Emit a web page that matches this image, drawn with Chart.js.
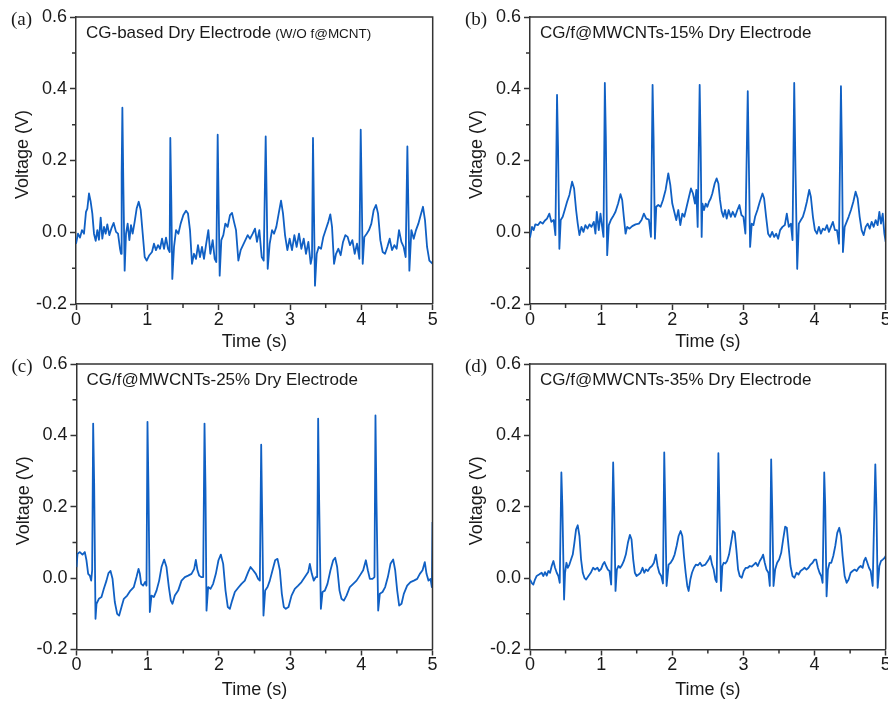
<!DOCTYPE html>
<html>
<head>
<meta charset="utf-8">
<title>ECG signals recorded with CG dry electrodes</title>
<script src="https://cdn.jsdelivr.net/npm/chart.js@4.4.1/dist/chart.umd.min.js"></script>
<style>
  html, body { margin: 0; padding: 0; background: #fff; }
  body { width: 888px; height: 702px; position: relative; overflow: hidden; }
  canvas { position: absolute; }
</style>
</head>
<body>
<canvas id="chartA" width="444" height="351" style="left:0;top:0"></canvas>
<canvas id="chartB" width="444" height="351" style="left:444px;top:0"></canvas>
<canvas id="chartC" width="444" height="351" style="left:0;top:351px"></canvas>
<canvas id="chartD" width="444" height="351" style="left:444px;top:351px"></canvas>
<script>
// tick values and labels shared by the four panels
const xTickValues = [0, 1, 2, 3, 4, 5];
const xTickLabels = ['0', '1', '2', '3', '4', '5'];
const xMinorValues = [0.5, 1.5, 2.5, 3.5, 4.5];
const yTickValues = [-0.2, 0, 0.2, 0.4, 0.6];
const yTickLabels = ['-0.2', '0.0', '0.2', '0.4', '0.6'];
const yMinorValues = [-0.1, 0.1, 0.3, 0.5];

// (a) CG-based, no f@MCNT
const timeA = [
  0, 0.028, 0.056, 0.084, 0.112, 0.140, 0.159, 0.182, 0.206, 0.229,
  0.252, 0.276, 0.299, 0.322, 0.346, 0.369, 0.393, 0.416, 0.439, 0.467,
  0.495, 0.528, 0.561, 0.589, 0.617, 0.631, 0.640, 0.650, 0.664, 0.682,
  0.701, 0.724, 0.748, 0.771, 0.794, 0.822, 0.850, 0.879, 0.907, 0.935,
  0.963, 0.991, 1.028, 1.065, 1.093, 1.121, 1.150, 1.178, 1.206, 1.234,
  1.262, 1.290, 1.313, 1.322, 1.336, 1.350, 1.374, 1.402, 1.435, 1.467,
  1.505, 1.542, 1.570, 1.598, 1.626, 1.654, 1.682, 1.710, 1.738, 1.766,
  1.794, 1.822, 1.855, 1.883, 1.916, 1.944, 1.967, 1.986, 2.000, 2.014,
  2.037, 2.065, 2.093, 2.126, 2.159, 2.187, 2.215, 2.243, 2.276, 2.308,
  2.341, 2.374, 2.407, 2.439, 2.477, 2.509, 2.537, 2.570, 2.603, 2.631,
  2.659, 2.673, 2.687, 2.715, 2.748, 2.776, 2.808, 2.841, 2.874, 2.902,
  2.930, 2.963, 2.995, 3.028, 3.061, 3.093, 3.126, 3.159, 3.192, 3.224,
  3.257, 3.290, 3.308, 3.322, 3.336, 3.350, 3.374, 3.402, 3.435, 3.467,
  3.505, 3.537, 3.565, 3.589, 3.617, 3.645, 3.678, 3.710, 3.743, 3.776,
  3.808, 3.841, 3.874, 3.907, 3.939, 3.972, 3.991, 4.005, 4.019, 4.042,
  4.075, 4.107, 4.140, 4.173, 4.206, 4.234, 4.266, 4.299, 4.332, 4.364,
  4.397, 4.430, 4.463, 4.495, 4.528, 4.561, 4.593, 4.621, 4.645, 4.659,
  4.673, 4.701, 4.734, 4.766, 4.799, 4.832, 4.864, 4.892, 4.921, 4.953,
  5.0
];
const voltA = [
  -0.032, -0.004, -0.015, 0.006, -0.004, 0.057, 0.066, 0.108, 0.085, 0.052,
  -0.004, -0.024, 0.006, -0.021, 0.041, -0.018, 0.015, -0.004, 0.022, -0.008,
  0.010, 0.026, 0.001, -0.004, -0.046, -0.060, 0.164, 0.347, 0.127, -0.107,
  -0.004, 0.024, -0.022, 0.020, -0.004, 0.029, 0.066, 0.085, 0.062, -0.004,
  -0.069, -0.079, -0.064, -0.055, -0.032, -0.050, -0.036, -0.046, -0.018, -0.046,
  -0.015, -0.046, -0.055, 0.263, 0.090, -0.130, -0.041, 0.006, -0.004, 0.024,
  0.048, 0.060, 0.052, 0.006, -0.088, -0.060, -0.074, -0.036, -0.069, -0.041,
  -0.074, -0.036, 0.006, -0.060, -0.022, -0.074, -0.083, 0.272, 0.071, -0.121,
  -0.022, -0.008, 0.024, 0.015, 0.048, 0.054, 0.029, 0.006, -0.079, -0.050,
  -0.036, -0.022, -0.008, -0.018, -0.004, 0.010, -0.027, 0.006, -0.069, -0.079,
  0.267, 0.090, -0.102, -0.032, 0.006, -0.004, 0.015, 0.052, 0.088, 0.052,
  -0.008, -0.050, -0.018, -0.050, -0.008, -0.041, -0.004, -0.046, -0.018, -0.060,
  -0.027, -0.088, -0.069, 0.263, 0.052, -0.149, -0.060, -0.041, -0.046, -0.013,
  0.010, 0.029, 0.050, 0.015, -0.088, -0.060, -0.046, -0.064, -0.027, -0.008,
  -0.013, -0.036, -0.022, -0.060, -0.032, -0.074, 0.286, 0.108, -0.088, -0.013,
  -0.004, 0.006, 0.024, 0.062, 0.076, 0.052, -0.022, -0.055, -0.060, -0.041,
  -0.018, -0.050, -0.036, -0.046, 0.006, -0.027, -0.041, -0.069, 0.239, 0.071,
  -0.107, 0.006, -0.018, 0.006, 0.024, 0.048, 0.071, 0.034, -0.041, -0.079,
  -0.088
];

// (b) 15 %
const timeB = [
  0, 0.028, 0.052, 0.075, 0.113, 0.146, 0.178, 0.207, 0.239, 0.272,
  0.300, 0.333, 0.357, 0.380, 0.394, 0.413, 0.432, 0.460, 0.488, 0.521,
  0.554, 0.592, 0.620, 0.648, 0.671, 0.695, 0.723, 0.751, 0.779, 0.808,
  0.836, 0.864, 0.897, 0.920, 0.939, 0.967, 0.991, 1.014, 1.033, 1.052,
  1.066, 1.085, 1.108, 1.136, 1.164, 1.202, 1.239, 1.272, 1.296, 1.319,
  1.343, 1.366, 1.399, 1.437, 1.484, 1.531, 1.568, 1.601, 1.634, 1.671,
  1.700, 1.723, 1.737, 1.756, 1.775, 1.803, 1.836, 1.869, 1.906, 1.944,
  1.972, 2.000, 2.028, 2.056, 2.085, 2.113, 2.141, 2.169, 2.202, 2.235,
  2.263, 2.291, 2.319, 2.338, 2.357, 2.385, 2.399, 2.413,
  2.423, 2.446, 2.470, 2.493, 2.516, 2.540, 2.563, 2.596, 2.624, 2.648,
  2.671, 2.695, 2.718, 2.742, 2.765, 2.793, 2.822, 2.850, 2.883, 2.915,
  2.944, 2.972, 3.000, 3.028, 3.061, 3.075, 3.094, 3.117, 3.141, 3.164,
  3.197, 3.230, 3.268, 3.291, 3.319, 3.347, 3.376, 3.404, 3.432, 3.460,
  3.488, 3.516, 3.549, 3.582, 3.610, 3.638, 3.667, 3.690, 3.714, 3.732,
  3.756, 3.779, 3.808, 3.836, 3.864, 3.892, 3.925, 3.948, 3.977, 4.005,
  4.033, 4.061, 4.089, 4.117, 4.146, 4.174, 4.202, 4.230, 4.258, 4.286,
  4.315, 4.343, 4.371, 4.385, 4.399, 4.423, 4.451, 4.479, 4.512, 4.545,
  4.577, 4.606, 4.634, 4.662, 4.690, 4.718, 4.746, 4.775, 4.803, 4.831,
  4.859, 4.887, 4.911, 4.934, 4.958, 4.981, 5.0
];
const voltB = [
  -0.015, 0.015, 0.006, 0.022, 0.020, 0.029, 0.024, 0.032, 0.038, 0.052,
  0.029, 0.034, -0.008, 0.383, 0.239, -0.046, 0.034, 0.043, 0.062, 0.085,
  0.104, 0.141, 0.122, 0.062, 0.024, -0.008, 0.015, 0.001, 0.020, 0.010,
  0.022, 0.015, 0.029, -0.004, 0.057, 0.006, 0.052, 0.015, -0.013, 0.416,
  0.267, -0.064, 0.020, 0.034, 0.043, 0.057, 0.080, 0.106, 0.090, 0.043,
  -0.004, 0.015, 0.010, 0.017, 0.022, 0.024, 0.034, 0.052, 0.038, 0.035,
  -0.013, 0.411, 0.267, -0.018, 0.071, 0.076, 0.071, 0.090, 0.118, 0.164,
  0.132, 0.080, 0.057, 0.034, 0.062, 0.020, 0.052, 0.043, 0.071, 0.099,
  0.122, 0.108, 0.080, 0.118, 0.015, 0.411, 0.239, -0.013,
  0.080, 0.062, 0.080, 0.071, 0.085, 0.094, 0.108, 0.136, 0.150, 0.136,
  0.090, 0.057, 0.043, 0.062, 0.038, 0.062, 0.043, 0.057, 0.043, 0.062,
  0.076, 0.048, 0.043, -0.004, 0.393, 0.211, -0.041, 0.024, 0.020, 0.043,
  0.062, 0.085, 0.108, 0.094, 0.043, -0.004, -0.013, 0.001, -0.013, -0.004,
  -0.018, 0.006, 0.015, 0.020, 0.052, 0.015, 0.024, -0.022, 0.416, 0.174,
  -0.102, 0.024, 0.034, 0.043, 0.062, 0.085, 0.118, 0.099, 0.043, 0.006,
  -0.004, 0.015, -0.004, 0.010, 0.006, 0.020, 0.001, 0.015, 0.029, 0.006,
  0.006, -0.032, 0.407, 0.220, -0.055, 0.015, 0.029, 0.043, 0.062, 0.085,
  0.113, 0.094, 0.043, 0.006, -0.008, 0.015, 0.024, 0.010, 0.029, 0.015,
  0.034, 0.020, 0.057, 0.024, 0.052, -0.004, -0.027
];

// (c) 25 %
const timeC = [
  0, 0.014, 0.047, 0.084, 0.117, 0.140, 0.164, 0.187, 0.206, 0.220,
  0.234, 0.248, 0.267, 0.281, 0.314, 0.351, 0.384, 0.421, 0.449, 0.478,
  0.506, 0.538, 0.571, 0.599, 0.632, 0.665, 0.712, 0.758, 0.805, 0.843,
  0.871, 0.890, 0.908, 0.936, 0.964, 0.983, 0.997, 1.011, 1.030, 1.053,
  1.086, 1.124, 1.161, 1.194, 1.231, 1.264, 1.297, 1.325, 1.348, 1.381,
  1.428, 1.475, 1.522, 1.568, 1.615, 1.653, 1.676, 1.699, 1.723, 1.751,
  1.779, 1.798, 1.812, 1.826, 1.849, 1.882, 1.919, 1.957, 1.994, 2.027,
  2.060, 2.093, 2.125, 2.154, 2.186, 2.224, 2.271, 2.317, 2.364, 2.411,
  2.444, 2.481, 2.519, 2.551, 2.575, 2.594, 2.608, 2.626, 2.650, 2.683,
  2.715, 2.753, 2.790, 2.823, 2.856, 2.884, 2.912, 2.940, 2.978, 3.020,
  3.066, 3.113, 3.160, 3.207, 3.254, 3.277, 3.305, 3.333, 3.361, 3.380,
  3.394, 3.408, 3.432, 3.455, 3.488, 3.525, 3.567, 3.605, 3.633, 3.661,
  3.694, 3.722, 3.755, 3.792, 3.839, 3.886, 3.933, 3.979, 4.026, 4.064,
  4.092, 4.120, 4.157, 4.185, 4.199, 4.213, 4.237, 4.260, 4.298, 4.335,
  4.373, 4.410, 4.448, 4.476, 4.504, 4.532, 4.565, 4.597, 4.644, 4.691,
  4.738, 4.785, 4.822, 4.860, 4.892, 4.916, 4.944, 4.972, 4.991, 5.0
];
const voltC = [
  0.031, 0.068, 0.073, 0.066, 0.073, 0.050, 0.012, 0.007, -0.007, 0.022,
  0.433, 0.265, -0.114, -0.072, -0.058, -0.053, -0.030, -0.007, 0.014, 0.020,
  -0.002, -0.067, -0.100, -0.105, -0.081, -0.058, -0.049, -0.035, -0.025, 0.003,
  0.026, 0.012, -0.016, -0.021, -0.011, -0.021, 0.438, 0.246, -0.095, -0.049,
  -0.053, -0.035, -0.007, 0.031, 0.052, 0.031, -0.025, -0.063, -0.072, -0.049,
  -0.035, -0.007, 0.003, 0.007, 0.012, 0.026, 0.051, 0.022, 0.007, 0.003,
  0.003, 0.433, 0.246, -0.091, -0.025, -0.030, -0.016, 0.012, 0.050, 0.066,
  0.040, -0.035, -0.081, -0.086, -0.063, -0.039, -0.027, -0.016, -0.007, 0.017,
  0.031, 0.022, 0.012, -0.002, -0.007, 0.374, 0.171, -0.105, -0.035, -0.025,
  -0.007, 0.022, 0.050, 0.054, 0.022, -0.044, -0.081, -0.086, -0.081, -0.049,
  -0.030, -0.021, -0.011, 0.003, 0.017, 0.040, 0.012, -0.007, 0.003, 0.003,
  0.447, 0.218, -0.086, -0.039, -0.035, -0.016, 0.022, 0.050, 0.057, 0.031,
  -0.035, -0.058, -0.063, -0.049, -0.025, -0.016, -0.007, 0.007, 0.022, 0.050,
  0.022, -0.002, -0.002, 0.003, 0.456, 0.218, -0.091, -0.044, -0.039, -0.025,
  0.003, 0.040, 0.052, 0.022, -0.035, -0.077, -0.072, -0.044, -0.021, -0.011,
  -0.007, -0.002, 0.012, 0.022, 0.045, 0.012, -0.007, -0.002, -0.025, 0.157
];

// (d) 35 %
const timeD = [
  0, 0.023, 0.047, 0.070, 0.094, 0.127, 0.164, 0.188, 0.211, 0.235,
  0.258, 0.282, 0.305, 0.329, 0.352, 0.376, 0.399, 0.418, 0.441, 0.455,
  0.479, 0.493, 0.512, 0.531, 0.554, 0.577, 0.601, 0.624, 0.648, 0.671,
  0.695, 0.718, 0.742, 0.765, 0.789, 0.822, 0.854, 0.887, 0.915, 0.948,
  0.972, 1.000, 1.023, 1.047, 1.070, 1.094, 1.117, 1.141, 1.169, 1.183,
  1.202, 1.221, 1.244, 1.268, 1.291, 1.319, 1.347, 1.376, 1.404, 1.427,
  1.451, 1.474, 1.498, 1.526, 1.554, 1.582, 1.606, 1.629, 1.657, 1.685,
  1.714, 1.742, 1.770, 1.793, 1.817, 1.845, 1.869, 1.887, 1.901, 1.920,
  1.948, 1.977, 2.005, 2.033, 2.061, 2.089, 2.117, 2.141, 2.164, 2.188,
  2.211, 2.230, 2.254, 2.277, 2.305, 2.333, 2.362, 2.390, 2.418, 2.465,
  2.512, 2.535, 2.559, 2.582, 2.606, 2.624, 2.648, 2.662, 2.685, 2.704,
  2.723, 2.746, 2.770, 2.798, 2.826, 2.854, 2.878, 2.901, 2.925, 2.948,
  2.977, 3.005, 3.033, 3.061, 3.089, 3.117, 3.146, 3.174, 3.202, 3.230,
  3.258, 3.277, 3.300, 3.324, 3.352, 3.371, 3.390, 3.404, 3.423, 3.446,
  3.474, 3.502, 3.531, 3.559, 3.587, 3.610, 3.634, 3.662, 3.690, 3.718,
  3.746, 3.775, 3.803, 3.831, 3.859, 3.887, 3.915, 3.944, 3.972, 4.000,
  4.023, 4.047, 4.070, 4.094, 4.113, 4.136, 4.150, 4.169, 4.188, 4.211,
  4.235, 4.263, 4.291, 4.319, 4.347, 4.371, 4.394, 4.423, 4.451, 4.479,
  4.507, 4.535, 4.563, 4.592, 4.620, 4.648, 4.676, 4.695, 4.718, 4.742,
  4.765, 4.789, 4.817, 4.854, 4.869, 4.887, 4.911, 4.934, 4.958, 4.986,
  5.0
];
const voltD = [
  -0.004, -0.013, -0.018, -0.004, 0.006, 0.010, 0.015, 0.006, 0.017, 0.007,
  0.020, 0.015, 0.034, 0.048, 0.029, 0.015, 0.006, -0.013, 0.296, 0.202,
  -0.060, 0.015, 0.043, 0.029, 0.038, 0.052, 0.066, 0.099, 0.137, 0.148,
  0.118, 0.052, 0.015, 0.001, -0.004, 0.006, 0.015, 0.029, 0.024, 0.029,
  0.020, 0.026, 0.038, 0.045, 0.034, 0.024, 0.020, -0.018, 0.324, 0.202,
  -0.036, 0.024, 0.034, 0.029, 0.036, 0.048, 0.066, 0.099, 0.121, 0.109,
  0.052, 0.015, 0.006, 0.010, 0.015, 0.029, 0.015, 0.024, 0.020, 0.029,
  0.034, 0.043, 0.066, 0.034, 0.015, 0.006, -0.015, 0.352, 0.202, -0.022,
  0.038, 0.043, 0.052, 0.066, 0.090, 0.118, 0.132, 0.118, 0.062, 0.015,
  -0.022, -0.036, -0.004, 0.015, 0.029, 0.038, 0.036, 0.043, 0.034, 0.038,
  0.052, 0.062, 0.038, 0.024, -0.004, -0.011, 0.350, 0.202, -0.036, 0.034,
  0.043, 0.041, 0.048, 0.066, 0.099, 0.132, 0.127, 0.080, 0.024, 0.006,
  0.001, 0.020, 0.029, 0.029, 0.034, 0.032, 0.038, 0.043, 0.034, 0.048,
  0.057, 0.066, 0.043, 0.024, 0.015, -0.022, 0.333, 0.202, -0.022, 0.024,
  0.043, 0.052, 0.071, 0.109, 0.144, 0.141, 0.090, 0.034, 0.006, 0.001,
  0.015, 0.010, 0.020, 0.024, 0.029, 0.024, 0.029, 0.038, 0.043, 0.052,
  0.052, 0.029, 0.015, 0.006, -0.013, 0.296, 0.202, -0.051, 0.024, 0.043,
  0.043, 0.062, 0.090, 0.127, 0.141, 0.118, 0.062, 0.006, -0.013, -0.004,
  0.015, 0.020, 0.024, 0.020, 0.029, 0.034, 0.029, 0.048, 0.057, 0.043,
  0.029, 0.020, -0.022, 0.319, 0.202, -0.027, 0.034, 0.048, 0.052, 0.057,
  0.062
];

const CANVAS_W = 444;
const CANVAS_H = 351;
const AXIS_COLOR = '#333333';
const TEXT_COLOR = '#1a1a1a';
const LINE_COLOR = 'rgb(16, 96, 196)';
const SANS = '"Liberation Sans", Arial, Helvetica, sans-serif';
const SERIF = '"Liberation Serif", "Times New Roman", serif';

Chart.defaults.font.family = SANS;

const panels = [
  { id: 'chartA', letter: '(a)', label: 'CG-based Dry Electrode', note: '(W/O f@MCNT)', times: timeA, volts: voltA,
    area: { left: 76, top: 17, right: 432.7, bottom: 304 }, xTitleY: 342.5 },
  { id: 'chartB', letter: '(b)', label: 'CG/f@MWCNTs-15% Dry Electrode', note: '', times: timeB, volts: voltB,
    area: { left: 86, top: 17, right: 441.7, bottom: 304 }, xTitleY: 342.5 },
  { id: 'chartC', letter: '(c)', label: 'CG/f@MWCNTs-25% Dry Electrode', note: '', times: timeC, volts: voltC,
    area: { left: 76.5, top: 13, right: 432.5, bottom: 298.5 }, xTitleY: 339.5 },
  { id: 'chartD', letter: '(d)', label: 'CG/f@MWCNTs-35% Dry Electrode', note: '', times: timeD, volts: voltD,
    area: { left: 86, top: 13, right: 441.7, bottom: 298.5 }, xTitleY: 339.5 },
];

// frame, minor ticks, axis titles, panel letter and in-plot label
const panelDecor = {
  id: 'panelDecor',
  afterDraw(chart, args, opts) {
    const { ctx, chartArea } = chart;
    const xScale = chart.scales.x;
    const yScale = chart.scales.y;
    ctx.save();
    ctx.strokeStyle = AXIS_COLOR;
    ctx.lineWidth = 1.5;
    ctx.beginPath();
    ctx.moveTo(chartArea.left, chartArea.top);
    ctx.lineTo(chartArea.right, chartArea.top);
    ctx.lineTo(chartArea.right, chartArea.bottom);
    xMinorValues.forEach((v) => {
      const px = xScale.getPixelForValue(v);
      ctx.moveTo(px, chartArea.bottom);
      ctx.lineTo(px, chartArea.bottom + 4);
    });
    yMinorValues.forEach((v) => {
      const py = yScale.getPixelForValue(v);
      ctx.moveTo(chartArea.left, py);
      ctx.lineTo(chartArea.left - 4, py);
    });
    ctx.stroke();

    ctx.fillStyle = TEXT_COLOR;
    ctx.font = `18px ${SANS}`;
    ctx.textAlign = 'center';
    ctx.textBaseline = 'middle';
    ctx.fillText('Time (s)', (chartArea.left + chartArea.right) / 2, opts.xTitleY);
    ctx.save();
    ctx.translate(chartArea.left - 52.5, (chartArea.top + chartArea.bottom) / 2 - 6);
    ctx.rotate(-Math.PI / 2);
    ctx.fillText('Voltage (V)', 0, 0);
    ctx.restore();

    ctx.textBaseline = 'alphabetic';
    ctx.textAlign = 'left';
    ctx.font = `19px ${SERIF}`;
    ctx.fillText(opts.letter, chartArea.left - 65, chartArea.top + 8);
    ctx.font = `17px ${SANS}`;
    const labelX = chartArea.left + 10;
    const labelY = chartArea.top + 21;
    ctx.fillText(opts.label, labelX, labelY);
    if (opts.note) {
      const w = ctx.measureText(opts.label).width;
      ctx.font = `13.5px ${SANS}`;
      ctx.fillText(opts.note, labelX + w + 4, labelY);
    }
    ctx.restore();
  },
};

function toPoints(times, volts) {
  return times.map((t, i) => ({ x: t, y: volts[i] }));
}

function renderPanel(p) {
  const ctx = document.getElementById(p.id).getContext('2d');
  return new Chart(ctx, {
    type: 'line',
    data: {
      datasets: [{
        data: toPoints(p.times, p.volts),
        borderColor: LINE_COLOR,
        borderWidth: 1.8,
        borderJoinStyle: 'round',
        pointRadius: 0,
        tension: 0,
        fill: false,
      }],
    },
    options: {
      responsive: false,
      animation: false,
      devicePixelRatio: 1,
      layout: { padding: { left: 0, top: p.area.top, right: CANVAS_W - p.area.right, bottom: 0 } },
      plugins: {
        legend: { display: false },
        tooltip: { enabled: false },
        panelDecor: { letter: p.letter, label: p.label, note: p.note, xTitleY: p.xTitleY },
      },
      scales: {
        x: {
          type: 'linear',
          min: 0,
          max: 5,
          afterBuildTicks: (scale) => { scale.ticks = xTickValues.map(value => ({ value })); },
          afterFit: (scale) => {
            scale.height = CANVAS_H - p.area.bottom;
            scale.paddingLeft = 0;
            scale.paddingRight = 0;
          },
          ticks: {
            callback: (value, index) => xTickLabels[index],
            font: { size: 18, lineHeight: 1 },
            color: TEXT_COLOR,
            padding: 1,
            maxRotation: 0,
            autoSkip: false,
          },
          grid: { drawOnChartArea: false, drawTicks: true, tickLength: 6, tickColor: AXIS_COLOR, tickWidth: 1.5 },
          border: { display: true, color: AXIS_COLOR, width: 1.5 },
          title: { display: false },
        },
        y: {
          type: 'linear',
          min: -0.2,
          max: 0.6,
          afterBuildTicks: (scale) => { scale.ticks = yTickValues.map(value => ({ value })); },
          afterFit: (scale) => {
            scale.width = p.area.left;
            scale.paddingTop = 0;
            scale.paddingBottom = 0;
          },
          ticks: {
            callback: (value, index) => yTickLabels[index],
            font: { size: 18, lineHeight: 1 },
            color: TEXT_COLOR,
            padding: 3,
            autoSkip: false,
          },
          grid: { drawOnChartArea: false, drawTicks: true, tickLength: 6, tickColor: AXIS_COLOR, tickWidth: 1.5 },
          border: { display: true, color: AXIS_COLOR, width: 1.5 },
          title: { display: false },
        },
      },
    },
    plugins: [panelDecor],
  });
}

panels.forEach(renderPanel);
</script>
</body>
</html>
